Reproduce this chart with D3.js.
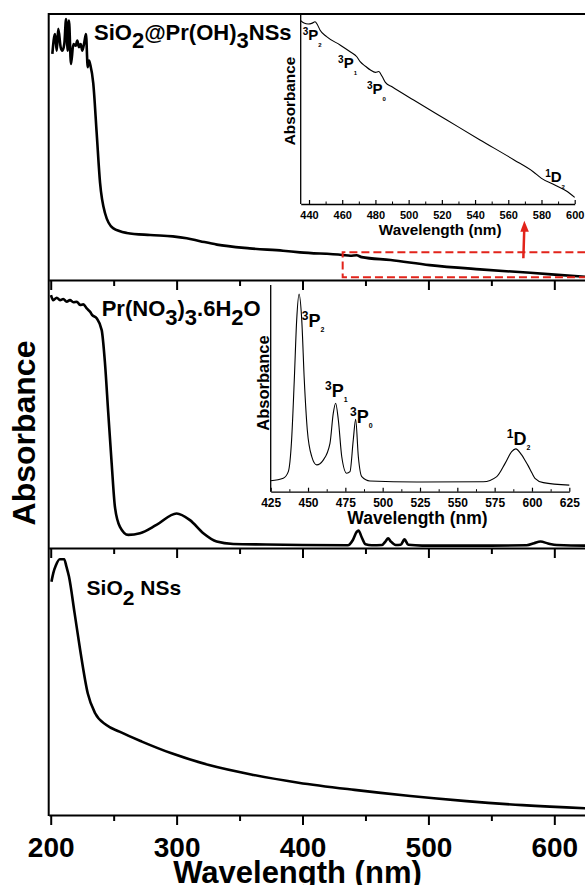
<!DOCTYPE html>
<html>
<head>
<meta charset="utf-8">
<script src="https://cdn.jsdelivr.net/npm/d3@7"></script>
<style>
  body { margin: 0; background: #fff; }
  svg { display: block; font-family: "Liberation Sans", Arial, sans-serif; font-weight: bold; }
</style>
</head>
<body>
<svg id="chart" width="585" height="885"></svg>
<script>
// ---- main spectra (wavelength nm, absorbance a.u. normalised per panel) ----
var hybridWl  = [201.3, 203.4, 204.8, 206, 207.9, 209.2, 210.8, 212.2, 213.5, 214.5, 216.1, 218, 219.9, 221.1, 222.5, 223.8, 225.1, 226.7, 228, 229.4, 230.4, 231.5, 233.8, 236.5, 239.2, 243.1, 249.5, 260.4, 279, 297, 308, 318.7, 332, 358, 384.5, 398, 431.6, 438, 443, 447, 470, 501, 541, 581, 625, 650];
var hybridAbs = [0.850, 0.925, 0.862, 0.944, 0.875, 0.862, 0.887, 0.981, 0.862, 0.975, 0.812, 0.887, 0.881, 0.900, 0.875, 0.887, 0.862, 0.894, 0.925, 0.800, 0.825, 0.808, 0.739, 0.553, 0.365, 0.252, 0.195, 0.177, 0.169, 0.164, 0.157, 0.146, 0.133, 0.119, 0.110, 0.104, 0.094, 0.091, 0.093, 0.086, 0.075, 0.056, 0.040, 0.027, 0.012, 0.005];

var nitrateWl  = [200.2, 202, 204.8, 207.4, 210, 212.7, 215.3, 218, 220.7, 223.3, 225.9, 228.6, 231.2, 233, 236.5, 240.5, 243.1, 245.7, 248.4, 251, 255, 261.6, 270.9, 284, 300, 310.6, 321.2, 331.8, 345, 371, 400, 436, 440, 443, 444.5, 447, 450, 455, 463, 466, 468, 470, 474, 478, 481, 484, 495, 550, 578, 584, 589, 595, 602, 625, 650];
var nitrateAbs = [0.944, 0.925, 0.934, 0.925, 0.929, 0.919, 0.925, 0.917, 0.919, 0.907, 0.909, 0.894, 0.882, 0.869, 0.857, 0.813, 0.690, 0.504, 0.317, 0.154, 0.079, 0.049, 0.055, 0.086, 0.129, 0.104, 0.055, 0.024, 0.015, 0.013, 0.011, 0.010, 0.030, 0.060, 0.065, 0.040, 0.014, 0.010, 0.011, 0.025, 0.036, 0.025, 0.011, 0.012, 0.032, 0.012, 0.009, 0.009, 0.010, 0.018, 0.024, 0.017, 0.011, 0.009, 0.009];

var silicaWl  = [200.6, 202, 204.2, 207.1, 210.7, 212.5, 214.5, 219, 223.4, 229.4, 235.3, 244.2, 254.6, 272.4, 296, 325.7, 361.2, 396.8, 441.3, 485.7, 530.2, 574.7, 624.4, 650];
var silicaAbs = [0.874, 0.905, 0.936, 0.958, 0.958, 0.930, 0.893, 0.755, 0.618, 0.456, 0.381, 0.337, 0.312, 0.275, 0.231, 0.187, 0.150, 0.121, 0.094, 0.071, 0.052, 0.037, 0.025, 0.020];

// ---- insets ----
var inset1Wl  = [435, 437, 439.5, 442, 443.6, 445, 446.6, 450.6, 458.7, 465, 468.8, 470.8, 474, 477, 480, 482, 484, 486, 490, 503, 523, 543, 563.5, 575, 580, 588, 595, 600];
var inset1Abs = [0.965, 0.952, 0.947, 0.952, 0.959, 0.945, 0.916, 0.881, 0.837, 0.800, 0.775, 0.749, 0.725, 0.705, 0.693, 0.697, 0.672, 0.640, 0.617, 0.547, 0.442, 0.337, 0.232, 0.170, 0.135, 0.100, 0.068, 0.035];

var inset2Wl  = [425, 433.4, 436.8, 439, 440.8, 442.4, 444, 445.8, 447.5, 449.5, 452.5, 455.8, 460.2, 464.7, 466.9, 468.5, 470.3, 472.6, 475.9, 478.1, 480.3, 481.9, 483.7, 486, 491.5, 522.8, 567.4, 576.4, 582, 586.4, 589.1, 593.1, 595.5, 597.5, 600, 602, 607.6, 625];
var inset2Abs = [0.053, 0.065, 0.097, 0.25, 0.54, 0.83, 0.956, 0.83, 0.54, 0.30, 0.17, 0.13, 0.153, 0.234, 0.379, 0.428, 0.347, 0.169, 0.089, 0.097, 0.25, 0.35, 0.169, 0.073, 0.052, 0.047, 0.048, 0.073, 0.137, 0.194, 0.207, 0.178, 0.150, 0.125, 0.090, 0.065, 0.044, 0.032];

var mainTicks   = [200, 300, 400, 500, 600, 700];
var mainMinor   = [250, 350, 450, 550, 650];
var inset1Ticks = [440, 460, 480, 500, 520, 540, 560, 580, 600];
var inset2Ticks = [425, 450, 475, 500, 525, 550, 575, 600, 625];

// Pr3+ transitions: multiplicity, term, J
var stateMult = ["3", "3", "3", "1"];
var stateTerm = ["P", "P", "P", "D"];
var stateJ    = ["2", "1", "0", "2"];
var inset1LabelWl  = [436.2, 457.5, 474.9, 582.2];
var inset1LabelAbs = [0.863, 0.716, 0.579, 0.117];
var inset2LabelWl  = [445.8, 461.4, 478.1, 583.1];
var inset2LabelAbs = [0.798, 0.460, 0.331, 0.226];

var svg = d3.select("#chart");
svg.append("rect").attr("width", 585).attr("height", 885).attr("fill", "#fff");

var x = d3.scaleLinear().domain([198.4, 700]).range([48.7, 48.7 + 501.6 * 1.259]);

var tops = [14, 280, 548], bottoms = [280, 548, 815];
var yPanel = tops.map(function(t, i) {
  return d3.scaleLinear().domain([0, 1]).range([bottoms[i], t]);
});

function richText(g, px, py, parts, size) {
  var t = g.append("text").attr("x", px).attr("y", py).style("font-size", size + "px");
  var shift = 0;
  parts.forEach(function(p) {
    var dy = p.dy || 0;
    t.append("tspan").attr("dy", dy - shift).style("font-size", (p.size || size) + "px").text(p.t);
    shift = dy;
  });
  return t;
}

function drawLine(xs, ys, wl, ab, width) {
  var line = d3.line()
    .x(function(d) { return xs(d[0]); })
    .y(function(d) { return ys(d[1]); })
    .curve(d3.curveMonotoneX);
  svg.append("path")
    .datum(d3.zip(wl, ab))
    .attr("fill", "none")
    .attr("stroke", "#000")
    .attr("stroke-width", width)
    .attr("stroke-linejoin", "round")
    .attr("d", line);
}

// frame: top border + left axis
svg.append("line").attr("x1", x.range()[0]).attr("x2", x.range()[1])
  .attr("y1", 14).attr("y2", 14).attr("stroke", "#000").attr("stroke-width", 2);
svg.append("line").attr("x1", x.range()[0]).attr("x2", x.range()[0])
  .attr("y1", 13).attr("y2", 816).attr("stroke", "#000").attr("stroke-width", 2);

bottoms.forEach(function(b, i) {
  var last = i == bottoms.length - 1;
  var major = svg.append("g")
    .attr("transform", "translate(0," + b + ")")
    .call(d3.axisBottom(x).tickValues(mainTicks).tickSize(10).tickSizeOuter(0).tickPadding(12)
      .tickFormat(last ? d3.format("d") : ""));
  major.select(".domain").attr("stroke-width", 2);
  major.selectAll(".tick line").attr("stroke-width", 2);
  major.selectAll(".tick text").style("font-size", "28px").attr("fill", "#000");
  var minor = svg.append("g")
    .attr("transform", "translate(0," + b + ")")
    .call(d3.axisBottom(x).tickValues(mainMinor).tickSize(6).tickFormat(""));
  minor.select(".domain").remove();
  minor.selectAll(".tick line").attr("stroke-width", 2);
});

drawLine(x, yPanel[0], hybridWl, hybridAbs, 2.6);
drawLine(x, yPanel[1], nitrateWl, nitrateAbs, 2.6);
drawLine(x, yPanel[2], silicaWl, silicaAbs, 2.6);

// axis titles
svg.append("text").attr("x", x(396)).attr("y", 883).attr("text-anchor", "middle")
  .style("font-size", "31px").text("Wavelength (nm)");
svg.append("text").attr("transform", "translate(35,433) rotate(-90)").attr("text-anchor", "middle")
  .style("font-size", "32px").text("Absorbance");

// sample labels
richText(svg, 94, 40, [{t: "SiO"}, {t: "2", dy: 8}, {t: "@Pr(OH)"}, {t: "3", dy: 8}, {t: "NSs"}], 22);
richText(svg, 101.7, 316, [{t: "Pr(NO"}, {t: "3", dy: 9}, {t: ")"}, {t: "3", dy: 9}, {t: ".6H"}, {t: "2", dy: 9}, {t: "O"}], 22);
richText(svg, 86.6, 595, [{t: "SiO"}, {t: "2", dy: 10}, {t: " NSs"}], 21);

// zoom box and arrow in the top panel
var red = "#e2231a";
var y0 = yPanel[0];
svg.append("path")
  .attr("d", "M" + x(720) + "," + y0(0.104) + "H" + x(431.9) + "V" + y0(0.010) + "H" + x(720))
  .attr("fill", "none").attr("stroke", red).attr("stroke-width", 2).attr("stroke-dasharray", "8,4");
var ax = x(575.4);
svg.append("line").attr("x1", ax).attr("x2", ax + 1)
  .attr("y1", y0(0.082)).attr("y2", y0(0.200))
  .attr("stroke", red).attr("stroke-width", 2.5);
svg.append("path")
  .attr("d", "M" + (ax + 1) + "," + y0(0.223) + "L" + (ax + 5.5) + "," + (y0(0.223) + 11) + "L" + (ax - 3) + "," + (y0(0.223) + 11) + "Z")
  .attr("fill", red);

// inset drawing
function drawInset(cfg) {
  var xs = d3.scaleLinear().domain(cfg.xd).range(cfg.xr);
  var ys = d3.scaleLinear().domain([0, 1]).range(cfg.yr);
  var g = svg.append("g");
  var bx = g.append("g").attr("transform", "translate(0," + cfg.yr[0] + ")")
    .call(d3.axisBottom(xs).tickValues(cfg.ticks).tickSize(-4).tickSizeOuter(0).tickPadding(cfg.pad));
  bx.selectAll(".tick text").style("font-size", cfg.tickFont + "px").attr("fill", "#000");
  bx.select(".domain").attr("stroke-width", 1.3);
  bx.selectAll(".tick line").attr("stroke-width", 1.2);
  var mid = [];
  for (var i = 0; i < cfg.ticks.length - 1; i++) mid.push((cfg.ticks[i] + cfg.ticks[i + 1]) / 2);
  var mx = g.append("g").attr("transform", "translate(0," + cfg.yr[0] + ")")
    .call(d3.axisBottom(xs).tickValues(mid).tickSize(-2.5).tickFormat(""));
  mx.select(".domain").remove();
  g.append("line").attr("x1", cfg.xr[0]).attr("x2", cfg.xr[0])
    .attr("y1", cfg.yr[1]).attr("y2", cfg.yr[0]).attr("stroke", "#000").attr("stroke-width", 1.3);

  drawLine(xs, ys, cfg.wl, cfg.ab, 1.1);

  g.append("text").attr("x", (cfg.xr[0] + cfg.xr[1]) / 2 + cfg.titleDx).attr("y", cfg.titleY)
    .attr("text-anchor", "middle").style("font-size", cfg.titleFont + "px").text("Wavelength (nm)");
  g.append("text").attr("transform", "translate(" + cfg.absX + "," + cfg.absY + ") rotate(-90)")
    .attr("text-anchor", "middle").style("font-size", cfg.absFont + "px").text("Absorbance");

  cfg.lw.forEach(function(w, i) {
    richText(g, xs(w), ys(cfg.la[i]), [
      {t: stateMult[i], size: cfg.supFont, dy: -cfg.supRise},
      {t: stateTerm[i]},
      {t: stateJ[i], size: cfg.subFont, dy: cfg.subDrop}
    ], cfg.stateFont);
  });
}

drawInset({
  xd: [435, 600], xr: [300.7, 574.7], yr: [204, 14], ticks: inset1Ticks, pad: 7.5, tickFont: 11,
  wl: inset1Wl, ab: inset1Abs, titleDx: 2.5, titleY: 234.5, titleFont: 15.3,
  absX: 295, absY: 101, absFont: 15.3,
  lw: inset1LabelWl, la: inset1LabelAbs, stateFont: 15, supFont: 10, supRise: 4.8, subFont: 6, subDrop: 7
});

drawInset({
  xd: [425, 625], xr: [270.7, 569.3], yr: [491.7, 285], ticks: inset2Ticks, pad: 6.5, tickFont: 12,
  wl: inset2Wl, ab: inset2Abs, titleDx: -2.5, titleY: 524, titleFont: 17.5,
  absX: 269, absY: 383, absFont: 16.5,
  lw: inset2LabelWl, la: inset2LabelAbs, stateFont: 18, supFont: 12, supRise: 7, subFont: 7, subDrop: 5
});
</script>
</body>
</html>
